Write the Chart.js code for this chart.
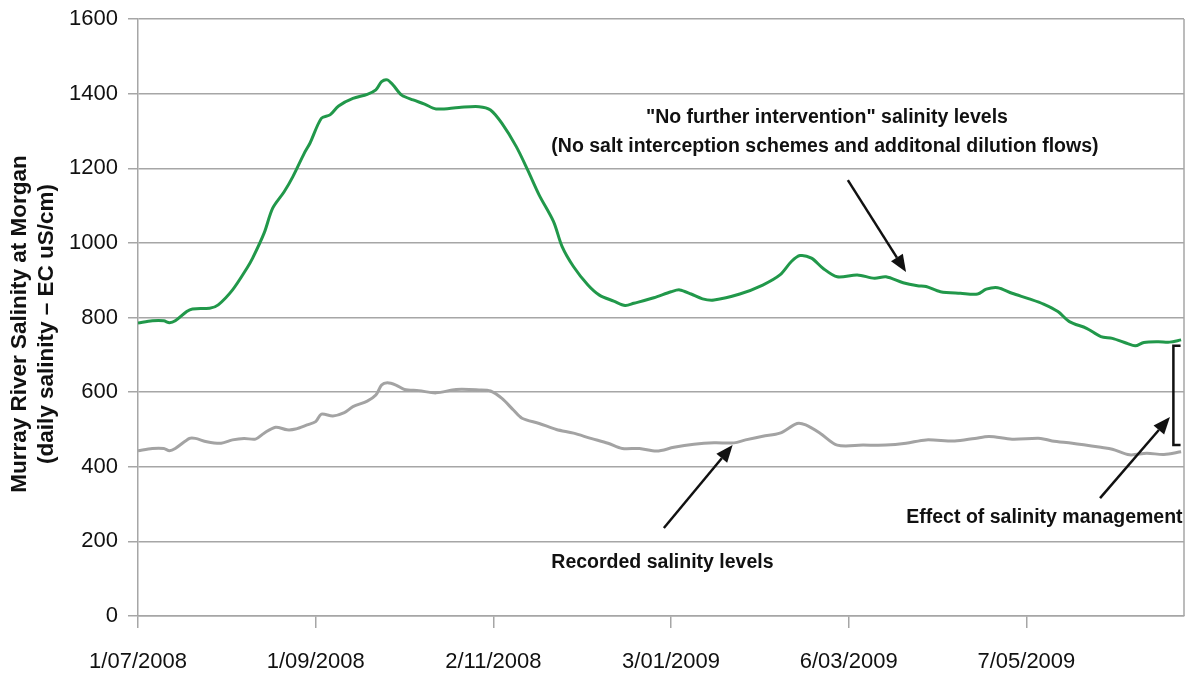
<!DOCTYPE html>
<html>
<head>
<meta charset="utf-8">
<script src="https://cdn.jsdelivr.net/npm/chart.js@4.4.1/dist/chart.umd.min.js"></script>
<style>
  html, body { margin: 0; padding: 0; background: #fff; }
  #wrap { position: relative; width: 1189px; height: 677px; }
</style>
</head>
<body>
<div id="wrap"><canvas id="c" width="1189" height="677"></canvas></div>
<script>
// ---- Data (x = days since 1/07/2008) ----
const noInterventionDays = [0,5,9,11,13,17,19,25,28,33,38,40,44,47,51,54,58,60,64,67,70,75,80,83,85,87,89,92,96,100,104,112,119,123,127,132,136,140,145,148,152,157,161,166,170,173,180,186,189,193,197,201,210,218,224,228,231,235,239,244,251,257,261,267,272,275,280,287,293,296,300,305,311,316,321,325,331,336,340,345,348,351,356,360,364];
const noInterventionValues = [785,791,791,786,791,816,823,825,834,874,932,959,1026,1093,1137,1177,1240,1267,1334,1343,1367,1387,1398,1410,1432,1437,1423,1396,1383,1372,1359,1363,1365,1356,1320,1258,1195,1128,1057,990,936,887,860,844,832,838,853,869,874,863,850,847,863,887,914,950,966,959,932,909,914,905,909,893,885,883,869,865,863,876,880,865,850,836,816,789,771,749,744,731,724,733,735,734,740];

const recordedDays = [0,5,9,11,13,18,20,24,29,33,37,41,44,48,52,55,59,62,64,68,72,75,80,83,85,87,90,93,98,104,111,119,123,127,131,134,140,146,152,158,164,169,175,181,187,194,201,208,212,218,224,230,233,238,244,253,261,268,275,285,292,297,305,315,319,326,336,340,346,352,358,364];
const recordedValues = [443,449,449,443,449,476,476,467,463,472,476,474,490,506,499,501,512,521,541,536,545,561,576,592,619,625,619,607,604,598,607,606,603,583,552,530,516,500,490,476,463,449,449,442,452,460,464,464,472,482,490,516,512,490,458,458,458,463,472,469,476,481,474,476,469,463,452,447,432,436,433,440];

const xTickDays = [0,62,124,186,248,310];
const xTickLabels = ['1/07/2008','1/09/2008','2/11/2008','3/01/2009','6/03/2009','7/05/2009'];
const yTickValues = [0,200,400,600,800,1000,1200,1400,1600];
const yTickLabels = ['0','200','400','600','800','1000','1200','1400','1600'];

const yTitleLines = ['Murray River Salinity at Morgan', '(daily salinity \u2013 EC uS/cm)'];

// annotations in data space [day, value]
const noteTexts = [
  {text: '"No further intervention" salinity levels', at: [240.4, 1337]},
  {text: '(No salt interception schemes and additonal dilution flows)', at: [239.7, 1257]},
  {text: 'Recorded salinity levels', at: [183, 142]},
  {text: 'Effect of salinity management', at: [316.3, 263]}
];
const arrows = [
  {from: [247.7, 1168], to: [268, 922]},
  {from: [183.5, 236], to: [207.5, 458]},
  {from: [335.7, 316], to: [360.1, 533]}
];
const bracket = {day: 361.3, top: 724, bottom: 458, serifDay: 363.8};

const toPoints = (d, v) => d.map((x, i) => ({x: x, y: v[i]}));

const GRID = '#a6a6a6';
const FONT = "'Liberation Sans', Arial, sans-serif";

const decorPlugin = {
  id: 'decor',
  beforeDatasetsDraw(chart) {
    const {ctx, chartArea} = chart;
    ctx.save();
    ctx.strokeStyle = GRID;
    ctx.lineWidth = 1.5;
    ctx.beginPath();
    ctx.moveTo(chartArea.right, chartArea.top);
    ctx.lineTo(chartArea.right, chartArea.bottom);
    ctx.stroke();
    ctx.restore();
  },
  afterDraw(chart) {
    const {ctx, scales} = chart;
    const xs = scales.x, ys = scales.y;
    const P = (p) => [xs.getPixelForValue(p[0]), ys.getPixelForValue(p[1])];
    ctx.save();
    // y title
    ctx.fillStyle = '#111';
    ctx.font = 'bold 22.5px ' + FONT;
    ctx.textAlign = 'center';
    ctx.textBaseline = 'middle';
    const cy = 324;
    [20, 47].forEach((cx, i) => {
      ctx.save();
      ctx.translate(cx, cy);
      ctx.rotate(-Math.PI / 2);
      ctx.fillText(yTitleLines[i], 0, 0);
      ctx.restore();
    });
    // notes
    ctx.font = 'bold 19.5px ' + FONT;
    noteTexts.forEach(n => {
      const [x, y] = P(n.at);
      ctx.fillText(n.text, x, y);
    });
    // arrows
    ctx.strokeStyle = '#111';
    ctx.lineWidth = 2.5;
    arrows.forEach(a => {
      const [x1, y1] = P(a.from);
      const [x2, y2] = P(a.to);
      const ang = Math.atan2(y2 - y1, x2 - x1);
      const hl = 17, hw = 7;
      const bx = x2 - hl * Math.cos(ang), by = y2 - hl * Math.sin(ang);
      ctx.beginPath();
      ctx.moveTo(x1, y1);
      ctx.lineTo(bx, by);
      ctx.stroke();
      ctx.beginPath();
      ctx.moveTo(x2, y2);
      ctx.lineTo(bx + hw * Math.sin(ang), by - hw * Math.cos(ang));
      ctx.lineTo(bx - hw * Math.sin(ang), by + hw * Math.cos(ang));
      ctx.closePath();
      ctx.fillStyle = '#111';
      ctx.fill();
    });
    // bracket
    const bx = xs.getPixelForValue(bracket.day);
    const sx = xs.getPixelForValue(bracket.serifDay);
    const bt = ys.getPixelForValue(bracket.top);
    const bb = ys.getPixelForValue(bracket.bottom);
    ctx.beginPath();
    ctx.moveTo(sx, bt);
    ctx.lineTo(bx, bt);
    ctx.lineTo(bx, bb);
    ctx.lineTo(sx, bb);
    ctx.stroke();
    ctx.restore();
  }
};

new Chart(document.getElementById('c'), {
  type: 'line',
  data: {
    datasets: [
      {
        label: 'No further intervention',
        data: toPoints(noInterventionDays, noInterventionValues),
        borderColor: '#21984a',
        borderWidth: 3,
        pointRadius: 0,
        tension: 0.3,
        fill: false
      },
      {
        label: 'Recorded',
        data: toPoints(recordedDays, recordedValues),
        borderColor: '#a3a3a3',
        borderWidth: 3,
        pointRadius: 0,
        tension: 0.3,
        fill: false
      }
    ]
  },
  options: {
    responsive: false,
    animation: false,
    devicePixelRatio: 1,
    layout: {padding: {left: 0, right: 5, top: 19, bottom: 0}},
    plugins: {legend: {display: false}, tooltip: {enabled: false}},
    scales: {
      x: {
        type: 'linear',
        min: 0,
        max: 365,
        afterBuildTicks(scale) { scale.ticks = xTickDays.map(v => ({value: v})); },
        afterFit(scale) { scale.height = 61; scale.paddingLeft = 0; scale.paddingRight = 0; },
        grid: {drawOnChartArea: false, drawTicks: true, tickLength: 12, color: GRID, lineWidth: 1.5},
        border: {color: GRID, width: 1.5},
        ticks: {
          autoSkip: false, maxRotation: 0, minRotation: 0, padding: 21,
          color: '#111',
          font: {family: FONT, size: 22},
          callback(value) { const i = xTickDays.indexOf(value); return i >= 0 ? xTickLabels[i] : ''; }
        }
      },
      y: {
        min: 0,
        max: 1600,
        afterBuildTicks(scale) { scale.ticks = yTickValues.map(v => ({value: v})); },
        afterFit(scale) { scale.width = 138; scale.paddingTop = 0; scale.paddingBottom = 0; },
        grid: {drawTicks: true, tickLength: 10, color: GRID, lineWidth: 1.5},
        border: {color: GRID, width: 1.5},
        ticks: {
          padding: 10,
          color: '#111',
          font: {family: FONT, size: 22},
          callback(value) { const i = yTickValues.indexOf(value); return i >= 0 ? yTickLabels[i] : ''; }
        }
      }
    }
  },
  plugins: [decorPlugin]
});
</script>
</body>
</html>
